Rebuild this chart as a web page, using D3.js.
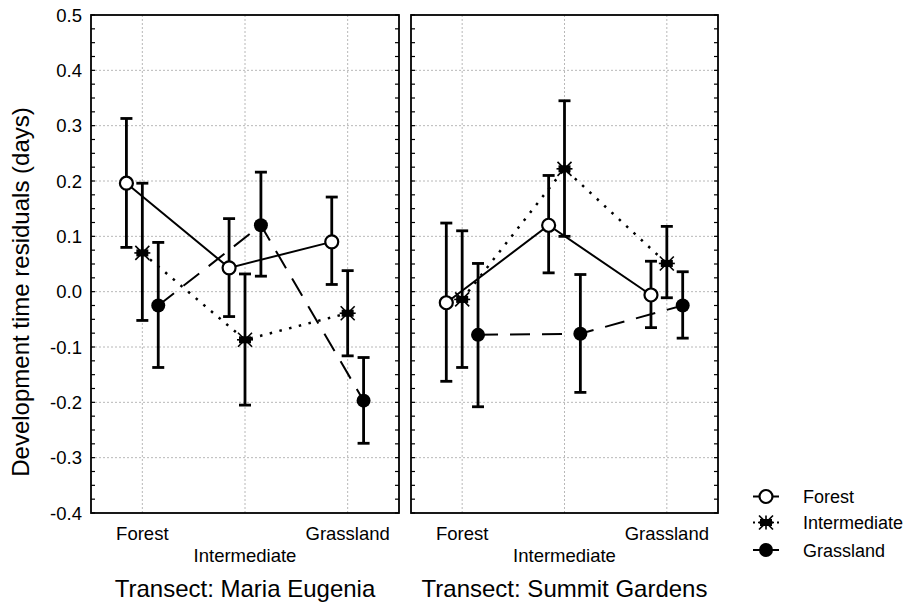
<!DOCTYPE html>
<html><head><meta charset="utf-8">
<script src="https://cdn.jsdelivr.net/npm/d3@7"></script>
<style>body{margin:0;background:#fff}svg{display:block;font-family:"Liberation Sans",Arial,sans-serif}</style>
</head><body><svg id="c" width="911" height="603"></svg>
<script>
const categories = ["Forest", "Intermediate", "Grassland"];
const seriesNames = ["Forest", "Intermediate", "Grassland"];
const panels = ["Transect: Maria Eugenia", "Transect: Summit Gardens"];
const yTicks = [-0.4,-0.3,-0.2,-0.1,0.0,0.1,0.2,0.3,0.4,0.5];
// means[series][category]
const meanME = [[0.196, 0.043, 0.090], [0.070, -0.087, -0.039], [-0.025, 0.120, -0.197]];
const upperME = [[0.313, 0.132, 0.171], [0.196, 0.032, 0.038], [0.089, 0.216, -0.119]];
const lowerME = [[0.080, -0.045, 0.013], [-0.052, -0.205, -0.116], [-0.137, 0.028, -0.274]];
const meanSG = [[-0.020, 0.120, -0.006], [-0.014, 0.222, 0.051], [-0.078, -0.076, -0.025]];
const upperSG = [[0.124, 0.210, 0.055], [0.110, 0.345, 0.118], [0.051, 0.031, 0.036]];
const lowerSG = [[-0.162, 0.034, -0.065], [-0.137, 0.100, -0.011], [-0.208, -0.182, -0.084]];

const svg = d3.select("#c");
const yTop = 15, yBot = 513;
const y = d3.scaleLinear().domain([-0.4, 0.5]).range([yBot, yTop]);
const panelX = [[91, 399], [411, 718]];
const offsets = [-0.155, 0, 0.155];
const dashes = [null, "2.5,7.5", "20,12"];
const data = [[meanME, upperME, lowerME], [meanSG, upperSG, lowerSG]];

function marker(g, type, cx, cy) {
  if (type === 0) {
    g.append("circle").attr("cx", cx).attr("cy", cy).attr("r", 6.5).attr("fill", "#fff").attr("stroke", "#000").attr("stroke-width", 2.2);
  } else if (type === 2) {
    g.append("circle").attr("cx", cx).attr("cy", cy).attr("r", 7).attr("fill", "#000");
  } else {
    const s = 7;
    g.append("rect").attr("x", cx - 6).attr("y", cy - 3.5).attr("width", 12).attr("height", 7).attr("fill", "#000");
    [[-s, -s, s, s], [-s, s, s, -s], [0, -s, 0, s], [-s - 1, 0, s + 1, 0]].forEach(l =>
      g.append("line").attr("x1", cx + l[0]).attr("y1", cy + l[1]).attr("x2", cx + l[2]).attr("y2", cy + l[3]).attr("stroke", "#000").attr("stroke-width", 1.6));
  }
}

panels.forEach((title, p) => {
  const [x0, x1] = panelX[p];
  const x = d3.scaleLinear().domain([-0.5, 2.5]).range([x0, x1]);
  const g = svg.append("g");
  yTicks.forEach(t => {
    if (t > -0.4 && t < 0.5) g.append("line").attr("x1", x0).attr("x2", x1).attr("y1", y(t)).attr("y2", y(t)).attr("stroke", "#b8b8b8").attr("stroke-dasharray", "2,2").attr("stroke-width", 1);
  });
  categories.forEach((c, i) => {
    g.append("line").attr("x1", x(i)).attr("x2", x(i)).attr("y1", yTop).attr("y2", yBot).attr("stroke", "#b8b8b8").attr("stroke-dasharray", "2,2").attr("stroke-width", 1);
  });
  const minor = d3.range(-0.4, 0.5001, 0.025);
  minor.forEach(t => {
    const yy = y(t);
    g.append("line").attr("x1", x0).attr("x2", x0 + 4).attr("y1", yy).attr("y2", yy).attr("stroke", "#000").attr("stroke-width", 1.2);
    g.append("line").attr("x1", x1 - 4).attr("x2", x1).attr("y1", yy).attr("y2", yy).attr("stroke", "#000").attr("stroke-width", 1.2);
  });
  const [mean, up, lo] = data[p];
  seriesNames.forEach((s, si) => {
    const line = d3.line().x((d, i) => x(i + offsets[si])).y(d => y(d));
    g.append("path").attr("d", line(mean[si])).attr("fill", "none").attr("stroke", "#000").attr("stroke-width", si === 1 ? 2.5 : 2)
      .attr("stroke-dasharray", dashes[si]);
  });
  seriesNames.forEach((s, si) => {
    categories.forEach((c, i) => {
      const cx = x(i + offsets[si]);
      g.append("line").attr("x1", cx).attr("x2", cx).attr("y1", y(up[si][i])).attr("y2", y(lo[si][i])).attr("stroke", "#000").attr("stroke-width", 2.8);
      [up[si][i], lo[si][i]].forEach(v => g.append("line").attr("x1", cx - 6).attr("x2", cx + 6).attr("y1", y(v)).attr("y2", y(v)).attr("stroke", "#000").attr("stroke-width", 2.8));
    });
  });
  seriesNames.forEach((s, si) => {
    categories.forEach((c, i) => marker(g, si, x(i + offsets[si]), y(mean[si][i])));
  });
  g.append("rect").attr("x", x0).attr("y", yTop).attr("width", x1 - x0).attr("height", yBot - yTop).attr("fill", "none").attr("stroke", "#000").attr("stroke-width", 1.8);
  categories.forEach((c, i) => {
    g.append("text").attr("x", x(i)).attr("y", i === 1 ? 562 : 540).attr("text-anchor", "middle").attr("font-size", 18.5).text(c);
  });
  g.append("text").attr("x", (x0 + x1) / 2).attr("y", 597).attr("text-anchor", "middle").attr("font-size", 24).text(title);
});

yTicks.forEach(t => {
  svg.append("text").attr("x", 82).attr("y", y(t) + 6.6).attr("text-anchor", "end").attr("font-size", 18.5).text(t.toFixed(1));
});
svg.append("text").attr("transform", "translate(28.5,292) rotate(-90)").attr("text-anchor", "middle").attr("font-size", 24).text("Development time residuals (days)");

const lg = svg.append("g");
const ly = [496.5, 522.5, 550];
seriesNames.forEach((s, si) => {
  lg.append("line").attr("x1", 753).attr("x2", 779).attr("y1", ly[si]).attr("y2", ly[si]).attr("stroke", "#000").attr("stroke-width", 2)
    .attr("stroke-dasharray", si === 1 ? "2,4" : null);
  marker(lg, si, 766, ly[si]);
  lg.append("text").attr("x", 803).attr("y", ly[si] + 6.5).attr("font-size", 18).text(s);
});
</script></body></html>
